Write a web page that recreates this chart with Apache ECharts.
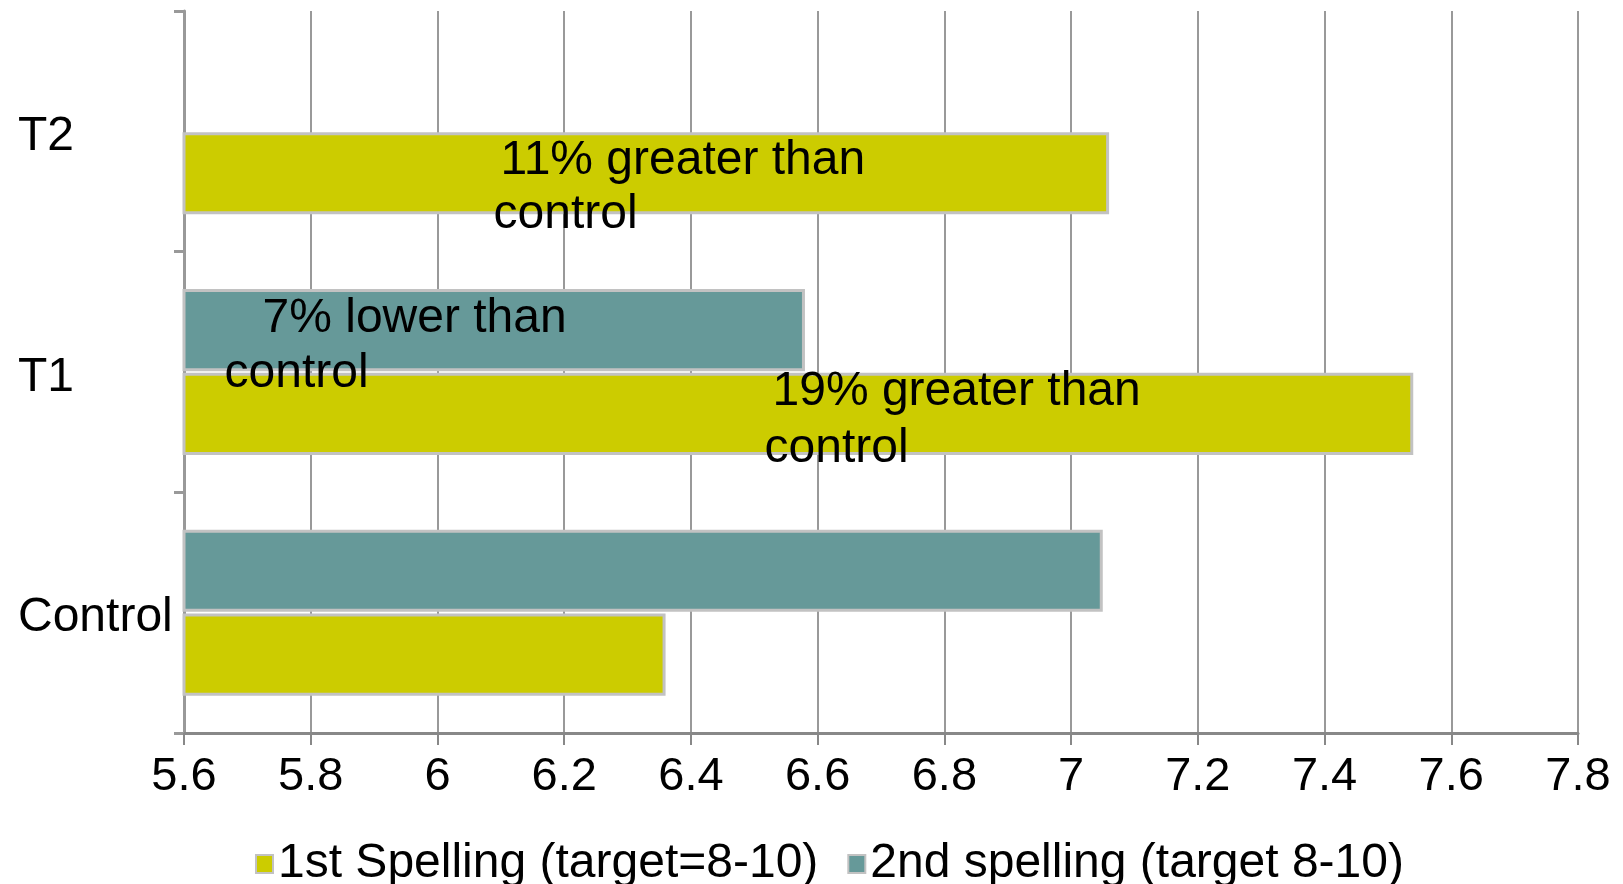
<!DOCTYPE html>
<html>
<head>
<meta charset="utf-8">
<script src="https://cdn.jsdelivr.net/npm/echarts@6/dist/echarts.min.js"></script>
<style>html,body{margin:0;padding:0;background:#fff;}#c{width:1623px;height:884px;}</style>
</head>
<body>
<div id="c"></div>
<script>
const categories = ['Control', 'T1', 'T2'];
const seriesNames = ['1st Spelling (target=8-10)', '2nd spelling (target 8-10)'];
const firstSpelling = [6.36, 7.54, 7.06];
const secondSpelling = [7.05, 6.58, null];
const firstLabels = [null, ['19% greater than', 'control'], ['11% greater than', 'control']];
const secondLabels = [null, ['7% lower than', 'control'], null];
const xTicks = { min: 5.6, max: 7.8, interval: 0.2 };

// label placement styling (relative to the bar's top-left), not data
const firstLabelStyle = [null, { pos: [582, -10], pad: 8, lh: 57 }, { pos: [311, 2], pad: 7, lh: 54 }];
const secondLabelStyle = [null, { pos: [42, 2], pad: 38, lh: 55 }, null];

const font = 'Liberation Sans, Arial, sans-serif';

function buildData(values, labels, styles) {
  return values.map((v, i) => {
    const item = { value: v };
    if (labels[i]) {
      const s = styles[i];
      item.label = {
        show: true,
        position: s.pos,
        align: 'left',
        verticalAlign: 'top',
        formatter: '{a|' + labels[i][0] + '}\n{b|' + labels[i][1] + '}',
        rich: {
          a: { fontSize: 48, lineHeight: s.lh, color: '#000', fontFamily: font, padding: [0, 0, 0, s.pad] },
          b: { fontSize: 48, lineHeight: s.lh, color: '#000', fontFamily: font }
        }
      };
    }
    return item;
  });
}

const chart = echarts.init(document.getElementById('c'), null, { renderer: 'canvas' });
chart.setOption({
  animation: false,
  backgroundColor: '#fff',
  textStyle: { fontFamily: font },
  grid: { left: 184, right: 45, top: 11, bottom: 151, containLabel: false },
  legend: {
    left: 250, top: 835,
    icon: 'rect',
    itemWidth: 17, itemHeight: 18, itemGap: 29,
    textStyle: { fontSize: 48, color: '#000', fontFamily: font },
    data: seriesNames
  },
  xAxis: {
    type: 'value', min: xTicks.min, max: xTicks.max, interval: xTicks.interval,
    axisLine: { show: true, lineStyle: { color: '#888', width: 3 } },
    axisTick: { show: true, length: 12, lineStyle: { color: '#888', width: 2 } },
    splitLine: { show: true, lineStyle: { color: '#999', width: 2 } },
    axisLabel: { fontSize: 47, color: '#000', margin: 21, fontFamily: font }
  },
  yAxis: {
    type: 'category', data: categories,
    axisLine: { show: true, lineStyle: { color: '#999', width: 3 } },
    axisTick: { show: true, length: 10, lineStyle: { color: '#999', width: 3 } },
    axisLabel: {
      color: '#000', align: 'left', margin: 166, fontFamily: font,
      formatter: '{c|{value}}',
      rich: { c: { fontSize: 48, color: '#000', fontFamily: font, padding: [11, 0, 0, 0] } }
    }
  },
  series: [
    {
      name: seriesNames[1], type: 'bar',
      barCategoryGap: '31%', barGap: '2%',
      itemStyle: { color: '#669999', borderColor: '#c2c2c2', borderWidth: 3 },
      data: buildData(secondSpelling, secondLabels, secondLabelStyle)
    },
    {
      name: seriesNames[0], type: 'bar',
      barCategoryGap: '31%', barGap: '2%',
      itemStyle: { color: '#CCCC00', borderColor: '#c2c2c2', borderWidth: 3 },
      data: buildData(firstSpelling, firstLabels, firstLabelStyle)
    }
  ]
});
</script>
</body>
</html>
